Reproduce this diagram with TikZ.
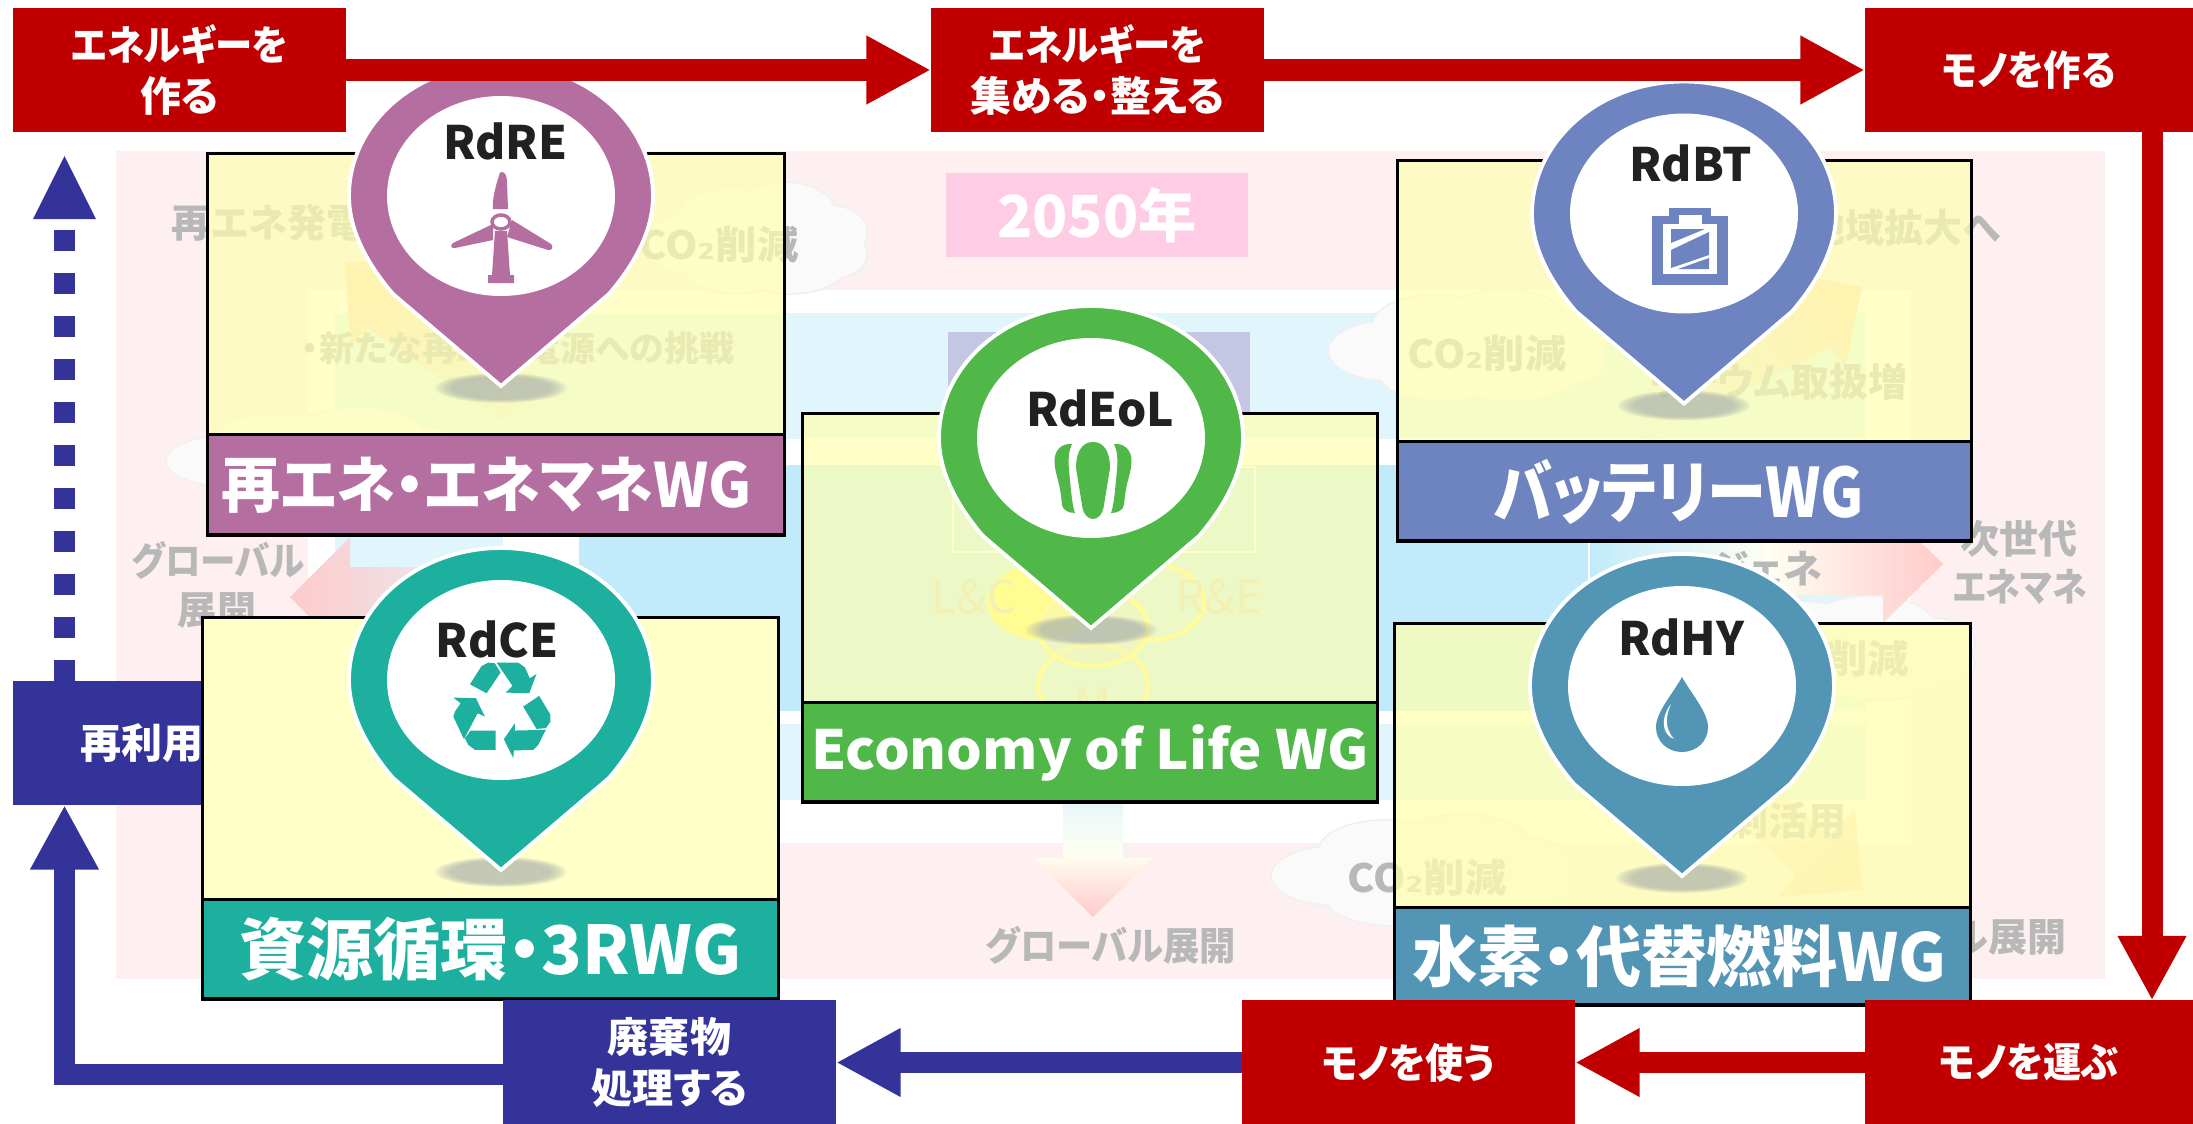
\documentclass[tikz,border=0pt]{standalone}
\usepackage{fontspec}
\usetikzlibrary{arrows.meta,fadings}
\newfontfamily\jp[RawFeature={+palt}]{Noto Sans CJK JP}
\newfontfamily\dv{DejaVu Sans}
\newcommand\pxf[1]{\fontsize{\the\dimexpr 0.28453pt*#1\relax}{\the\dimexpr 0.3557pt*#1\relax}\jp\bfseries\selectfont}
\newcommand\sx[2]{\scalebox{#1}[1]{#2}}
\newcommand\subtwo{{\dv\bfseries ₂}}
\definecolor{cRed}{HTML}{C00000}
\definecolor{cBlue}{HTML}{333399}
\definecolor{cPanel}{HTML}{FEF0F0}
\definecolor{cPale}{HTML}{E0F5FC}
\definecolor{cDeep}{HTML}{C1EBFB}
\definecolor{cPink}{HTML}{FFCCE5}
\definecolor{cPurple}{HTML}{C5C6E3}
\definecolor{cGrey}{HTML}{B8B8B8}
\definecolor{cSoft}{HTML}{D4D0B8}
\definecolor{cYel}{HTML}{FFFFB0}
\definecolor{cRE}{HTML}{B46EA0}
\definecolor{cBT}{HTML}{6E84C0}
\definecolor{cCE}{HTML}{1DB09F}
\definecolor{cEoL}{HTML}{50B848}
\definecolor{cHY}{HTML}{5295B5}
\definecolor{cArrowPink}{HTML}{FFCACA}
\definecolor{cOrange}{HTML}{FFD8B8}
\definecolor{cCloud}{HTML}{FAFAFA}
\definecolor{cCloudEdge}{HTML}{F0F0F0}
\definecolor{cCream}{HTML}{FFFFF2}
\definecolor{cShadow}{HTML}{A4ACAC}
\tikzset{
  flowbox/.style={rectangle,inner sep=0pt,outer sep=0pt,minimum height=1.24cm,text=white,align=center,font=\pxf{41}},
  redbox/.style={flowbox,fill=cRed},
  bluebox/.style={flowbox,fill=cBlue},
  blockline/.style={line width=0.21cm,line cap=butt,line join=miter,-{Triangle[length=0.645cm,width=0.64cm]}},
  redarrow/.style={blockline,draw=cRed},
  bluearrow/.style={blockline,draw=cBlue},
  yellowbox/.style={rectangle,inner sep=0pt,outer sep=0pt,draw=black,line width=0.85pt,fill=cYel,fill opacity=0.7},
  wgband/.style={rectangle,inner sep=0pt,outer sep=0pt,draw=black,line width=0.85pt,text=white},
  greytext/.style={inner sep=0pt,text=cGrey,font=\pxf{39},align=center},
  softtext/.style={inner sep=0pt,text=cSoft,font=\fontsize{13pt}{15pt}\jp\selectfont},
  pinlabel/.style={inner sep=0pt,text=black!87,font=\pxf{46}},
}
\newcommand\cloudshape[4]{%
  \foreach \a/\b/\r/\q in {-0.6/0.1/0.42/0.5,-0.25/-0.35/0.45/0.5,0.25/-0.4/0.45/0.55,0.65/-0.1/0.33/0.45,0.68/0.28/0.3/0.4,0.3/0.45/0.5/0.5,-0.2/0.5/0.45/0.45}{
    \draw[cCloudEdge,line width=1pt] ({#1+\a*#3},{#2+\b*#4}) ellipse [x radius={\r*#3},y radius={\q*#4}];}
  \foreach \a/\b/\r/\q in {-0.6/0.1/0.42/0.5,-0.25/-0.35/0.45/0.5,0.25/-0.4/0.45/0.55,0.65/-0.1/0.33/0.45,0.68/0.28/0.3/0.4,0.3/0.45/0.5/0.5,-0.2/0.5/0.45/0.45}{
    \fill[cCloud] ({#1+\a*#3},{#2+\b*#4}) ellipse [x radius={\r*#3},y radius={\q*#4}];}
}
\newcommand\pinshape[3]{%
  \begin{scope}[shift={(#1,#2)}]
    \foreach \s in {1,0.96,0.92,0.88,0.84,0.8,0.76}{
      \fill[cShadow,opacity=0.13] (0,192) ellipse [x radius={66*\s},y radius={15*\s}];}
    \path[fill=#3,draw=white,line width=1.1pt] (0,-132) .. controls (84,-132) and (152,-73) .. (152,0) .. controls (152,36) and (132,70) .. (108,98) -- (0,190) -- (-108,98) .. controls (-132,70) and (-152,36) .. (-152,0) .. controls (-152,-73) and (-84,-132) .. (0,-132) -- cycle;
    \fill[white] (0,0) ellipse [x radius=114,y radius=100];
  \end{scope}}
\begin{document}
\begin{tikzpicture}[x=0.01cm,y=-0.01cm]
\useasboundingbox (0,0) rectangle (2193,1124);
% ---------- faded background chart ----------
\fill[cPanel] (116,151) rectangle (2105,979);
\fill[white] (308,290) rectangle (1911,843);
\fill[cPale] (335,313) rectangle (1866,439);
\fill[cPale] (335,465) rectangle (503,711);
\fill[cDeep] (579,465) rectangle (1588,711);
\fill[cPale] (1590,465) rectangle (1866,711);
\fill[cPale] (335,724) rectangle (1866,800);
\fill[cPink] (946,173) rectangle (1248,257);
\fill[cPurple] (948,332) rectangle (1250,412);
\draw[white,line width=0.5pt] (953,467) rectangle (1255,552);
\node[inner sep=0pt,text=white,font=\pxf{58}] (yr) at (1097,215) {2050年};
% clouds
\cloudshape{757}{238}{112}{58}
\cloudshape{320}{456}{150}{50}
\cloudshape{1470}{345}{138}{58}
\cloudshape{1835}{648}{142}{54}
\cloudshape{1425}{870}{150}{58}
% orange arrows
\fill[cOrange,path fading=east,fading angle=-35] (345,263) -- (465,255) -- (425,288) -- (620,440) -- (530,440) -- (368,328) -- (350,345) -- cycle;
\fill[cOrange,path fading=east,fading angle=205] (1862,287) -- (1760,268) -- (1795,295) -- (1600,420) -- (1640,442) -- (1830,347) -- (1845,367) -- cycle;
\fill[cOrange,path fading=east,fading angle=140] (1862,890) -- (1779,897) -- (1796,875) -- (1700,790) -- (1740,760) -- (1830,835) -- (1855,807) -- cycle;
% pink block arrows
\shade[left color=cArrowPink,right color=cPale] (290,597) -- (350,537) -- (350,567) -- (520,567) -- (520,627) -- (350,627) -- (350,657) -- cycle;
\shade[left color=cDeep,right color=cArrowPink,middle color=cCream] (1590,535) -- (1883,535) -- (1883,505) -- (1943,564) -- (1883,623) -- (1883,595) -- (1590,595) -- cycle;
\shade[top color=cPale,bottom color=cArrowPink,middle color=cCream] (1063,790) -- (1123,790) -- (1123,858) -- (1153,858) -- (1093,917) -- (1033,858) -- (1063,858) -- cycle;
% three rings
\fill[yellow!70!white] (1042,602) ellipse [x radius=55,y radius=38];
\draw[yellow!60!white,line width=1.2pt] (1149,602) ellipse [x radius=55,y radius=38];
\draw[yellow!60!white,line width=1.2pt] (1093,685) ellipse [x radius=55,y radius=40];
\fill[cGrey!45!white,opacity=0.5] (1093,628) ellipse [x radius=55,y radius=38];
\draw[yellow!60!white,line width=1.2pt] (1093,628) ellipse [x radius=55,y radius=38];
\node[softtext] (lc) at (974,597) {L\&C};
\node[softtext] (re) at (1219,597) {R\&E};
\node[softtext] (mm) at (1093,704) {M};
% grey labels
\node[greytext,anchor=west] (t1) at (171,223) {再エネ発電};
\node[greytext] (t2) at (719,245) {\sx{1.06}{CO\subtwo 削減}};
\node[greytext,anchor=east,font=\pxf{35}] (t3) at (735,348) {・新たな再エネ電源への挑戦};
\node[greytext] (t4) at (218,560) {\sx{0.91}{グローバル}};
\node[greytext] (t5) at (217,610) {展開};
\node[greytext,anchor=east] (t6) at (2001,228) {地域拡大へ};
\node[greytext] (t7) at (1487,354) {\sx{1.06}{CO\subtwo 削減}};
\node[greytext,anchor=east] (t8) at (1908,382) {リチウム取扱増};
\node[greytext] (t9) at (2019,539) {次世代};
\node[greytext] (t10) at (2020,587) {\sx{0.89}{エネマネ}};
\node[greytext,anchor=east] (t11) at (1823,569) {ジェネ};
\node[greytext,anchor=east] (t12) at (1910,659) {\sx{1.06}{CO\subtwo 削減}};
\node[greytext,anchor=east] (t13) at (1847,821) {剰活用};
\node[greytext] (t14) at (1427,878) {\sx{1.06}{CO\subtwo 削減}};
\node[greytext] (t15) at (1111,945) {\sx{0.93}{グローバル展開}};
\node[greytext,anchor=east] (t16) at (2067,936) {グローバル展開};
% ---------- reuse box and its dashed arrow, under the WG boxes ----------
\node[bluebox,minimum width=3.33cm] (b2) at (179.5,743) {再利用する};
\coordinate (lx) at (64.5,1074.5);
\coordinate (upend) at (64.5,156);
\draw[cBlue,line width=0.21cm,line cap=butt,dash pattern=on 0.21cm off 0.22cm] (lx |- b2.north) -- (64.5,222);
\fill[cBlue] (33,219) -- (64.5,156) -- (96,219) -- cycle;
% ---------- WG boxes ----------
\node[yellowbox,minimum width=5.76cm,minimum height=2.815cm] (yRE) at (496,294.25) {};
\node[wgband,fill=cRE,minimum width=5.76cm,minimum height=1cm,font=\pxf{61}] (wRE) at (496,485) {\hspace*{-0.19cm}\raisebox{-0.03cm}{\sx{0.965}{再エネ・エネマネWG}}};
\node[yellowbox,fill=cYel!70!white,fill opacity=1,minimum width=5.75cm,minimum height=2.821cm] (yCE) at (490.5,758.5) {};
\node[wgband,fill=cCE,minimum width=5.75cm,minimum height=0.994cm,font=\pxf{67}] (wCE) at (490.5,949.3) {資源循環・3RWG};
\node[yellowbox,minimum width=5.74cm,minimum height=2.894cm] (yEoL) at (1090,558.3) {};
\node[wgband,fill=cEoL,minimum width=5.74cm,minimum height=0.99cm,font=\pxf{54}] (wEoL) at (1090,752.5) {\raisebox{-0.05cm}{\sx{1.04}{Economy of Life WG}}};
\node[yellowbox,minimum width=5.73cm,minimum height=2.813cm] (yBT) at (1684.5,301.3) {};
\node[wgband,fill=cBT,minimum width=5.73cm,minimum height=0.99cm,font=\pxf{68}] (wBT) at (1684.5,491.5) {\hspace*{-0.11cm}\raisebox{-0.03cm}{\sx{0.87}{バッテリーWG}}};
\node[yellowbox,minimum width=5.75cm,minimum height=2.835cm,fill opacity=0.75] (yHY) at (1682.5,765.7) {};
\node[wgband,fill=cHY,minimum width=5.75cm,minimum height=0.975cm,font=\pxf{66}] (wHY) at (1682.5,956.2) {\hspace*{-0.06cm}\sx{0.99}{水素・代替燃料WG}};
\foreach \n in {wRE,wCE,wEoL,wBT,wHY}{\draw[black,line width=1.4pt] (\n.south west) -- (\n.south east);}
% ---------- pins ----------
\pinshape{501}{196}{cRE}
\pinshape{1684}{213.5}{cBT}
\pinshape{501}{680}{cCE}
\pinshape{1091}{438}{cEoL}
\pinshape{1682}{686}{cHY}
\node[pinlabel] (pRE) at (505,141) {RdRE};
\node[pinlabel] (pBT) at (1691,163.5) {RdBT};
\node[pinlabel] (pCE) at (497,639) {RdCE};
\node[pinlabel] (pEoL) at (1100,408) {RdEoL};
\node[pinlabel] (pHY) at (1681,637) {RdHY};
% turbine
\begin{scope}[shift={(501,222)}]
  \fill[cRE] (-6,9) -- (6,9) -- (9,53) -- (13,53) -- (13,61) -- (-13,61) -- (-13,53) -- (-9,53) -- cycle;
  \fill[cRE] (1,-50) .. controls (4,-50) and (6,-46) .. (6,-40) -- (7,-13) -- (-8,-13) .. controls (-9,-20) and (-6,-35) .. (-2,-46) .. controls (-2,-49) and (-1,-50) .. (1,-50) -- cycle;
  \fill[cRE] (-8,2) -- (-48,21) .. controls (-51,23) and (-50,27) .. (-46,26) -- (-8,18) -- cycle;
  \fill[cRE] (11,-2) -- (50,22) .. controls (53,24) and (51,29) .. (47,28) -- (6,15) -- cycle;
  \draw[cRE,line width=1pt,fill=white] (0,0) ellipse [x radius=9,y radius=7];
\end{scope}
% battery
\fill[cBT] (1669,208) rectangle (1711,216);
\fill[cBT] (1652,216) rectangle (1728,285);
\fill[white] (1663,224) rectangle (1717,274);
\fill[white] (1679,215) rectangle (1702,224);
\fill[cBT] (1671,229) -- (1705,229) -- (1671,243) -- cycle;
\fill[cBT] (1671,250) -- (1709,232) -- (1709,255) -- (1671,268) -- cycle;
\fill[cBT] (1678,269) -- (1709,258) -- (1709,269) -- cycle;
% recycle
\begin{scope}[shift={(440,650)},x=0.003333cm,y=-0.003333cm]
  \fill[cCE] (90,103) -- (125,48) -- (145,38) -- (165,40) -- (182,68) -- (140,130) -- cycle;
  \fill[cCE] (170,38) -- (235,38) -- (255,52) -- (270,85) -- (290,72) -- (268,130) -- (197,128) -- (218,108) -- cycle;
  \fill[cCE] (250,170) -- (298,138) -- (332,195) -- (332,215) -- (318,235) -- (290,237) -- cycle;
  \fill[cCE] (318,240) -- (295,285) -- (280,300) -- (222,302) -- (220,325) -- (192,268) -- (225,220) -- (225,242) -- cycle;
  \fill[cCE] (167,242) -- (167,300) -- (105,300) -- (85,285) -- (75,265) -- (92,242) -- cycle;
  \fill[cCE] (72,268) -- (40,200) -- (45,185) -- (62,160) -- (40,143) -- (108,145) -- (135,200) -- (113,190) -- cycle;
\end{scope}
% EoL icon
\fill[cEoL] (1093,442) .. controls (1104,442) and (1110,452) .. (1110,468) -- (1104,505) .. controls (1103,514) and (1098,519) .. (1093,519) .. controls (1088,519) and (1083,514) .. (1082,505) -- (1076,468) .. controls (1076,452) and (1082,442) .. (1093,442) -- cycle;
\fill[cEoL] (1072,444) .. controls (1062,443) and (1054,450) .. (1054.5,462) .. controls (1055,475) and (1060,480) .. (1062,505) .. controls (1063,510) and (1068,513) .. (1075,513) .. controls (1072,505) and (1071,490) .. (1069,470) .. controls (1068,458) and (1069,450) .. (1072,444) -- cycle;
\fill[cEoL] (1114,444) .. controls (1124,443) and (1132,450) .. (1131.5,462) .. controls (1131,475) and (1126,480) .. (1124,505) .. controls (1123,510) and (1118,513) .. (1111,513) .. controls (1114,505) and (1115,490) .. (1117,470) .. controls (1118,458) and (1117,450) .. (1114,444) -- cycle;
% drop
\fill[cHY] (1682,677) .. controls (1690,692) and (1708,712) .. (1708,727) .. controls (1708,742) and (1696,752) .. (1682,752) .. controls (1668,752) and (1656,742) .. (1656,727) .. controls (1656,712) and (1674,692) .. (1682,677) -- cycle;
\fill[white] (1671,704) .. controls (1660,718) and (1662,735) .. (1674,739) .. controls (1664,728) and (1666,715) .. (1671,704) -- cycle;
% ---------- flow boxes and arrows ----------
\node[redbox,minimum width=3.33cm] (r1) at (179.5,70) {\sx{0.91}{エネルギーを}\\作る};
\node[redbox,minimum width=3.33cm] (r2) at (1097.5,70) {\sx{0.91}{エネルギーを}\\集める・整える};
\node[redbox,minimum width=3.28cm] (r3) at (2029,70) {\sx{0.91}{モノを作る}};
\node[redbox,minimum width=3.28cm] (r4) at (2029,1062.5) {\sx{0.93}{モノを運ぶ}};
\node[redbox,minimum width=3.33cm] (r5) at (1408.5,1062.5) {\sx{0.93}{モノを使う}};
\node[bluebox,minimum width=3.33cm] (b1) at (669.5,1062.5) {廃棄物\\処理する};
\coordinate (dn) at (2152,500);
\draw[redarrow] (r1) -- (r2);
\draw[redarrow] (r2) -- (r3);
\draw[redarrow] (dn |- r3.south) -- (dn |- r4.north);
\draw[redarrow] (r4) -- (r5);
\draw[bluearrow] (r5) -- (b1);
\draw[bluearrow] (lx -| b1.west) -- (lx) -- (lx |- b2.south);
\end{tikzpicture}
\end{document}
